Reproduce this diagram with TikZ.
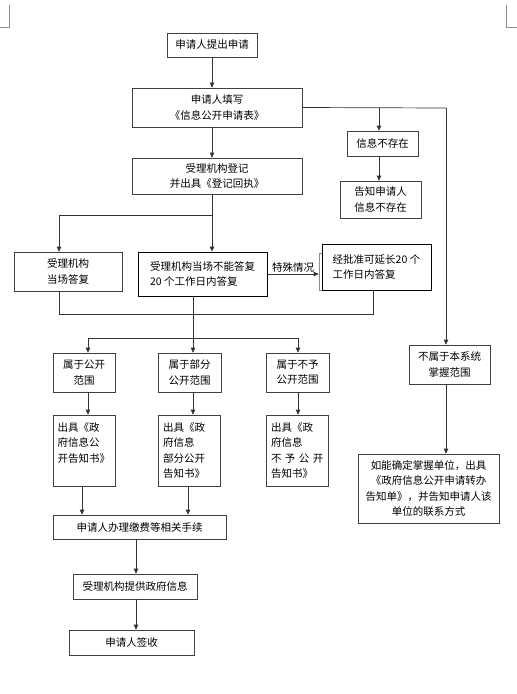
\documentclass[tikz,border=0pt]{standalone}
\usepackage{fontspec}
\newfontfamily\cjk{Noto Sans CJK SC}
\usetikzlibrary{arrows.meta}

\begin{document}
\begin{tikzpicture}[
    x=1pt, y=-1pt,
    box/.style={draw=black!75, rectangle, align=center, inner sep=2pt, fill=white, line width=0.7pt, font=\cjk\fontsize{10.5}{15.5}\selectfont},
    docbox/.style={box, align=left, text width=53pt, inner sep=4.5pt, minimum width=62pt, minimum height=71pt},
    arrow/.style={-{Triangle[width=4.5pt,length=5pt]}, line width=0.7pt, draw=black!80},
    line/.style={line width=0.7pt, draw=black!80},
    cornermark/.style={draw=black!45, line width=0.6pt}
]
\useasboundingbox (0,0) rectangle (517,694);

% corner marks
\draw [cornermark] (9,5) -- (9,27) -- (0,27);
\draw [cornermark] (506,5) -- (506,27) -- (517,27);

% Nodes
\node (top) [box, minimum width=90pt, minimum height=24pt] at (212,45) {申请人提出申请};
\node (fill) [box, minimum width=170pt, minimum height=39pt] at (217,107.5) {申请人填写\\《信息公开申请表》};
\node (reg) [box, minimum width=170pt, minimum height=36pt] at (217,176) {受理机构登记\\并出具《登记回执》};
\node (nonex) [box, minimum width=71pt, minimum height=25pt] at (382.5,143.5) {信息不存在};
\node (tell) [box, minimum width=81pt, minimum height=37pt] at (380.5,199.5) {告知申请人\\信息不存在};
\node (onsite) [box, minimum width=108pt, minimum height=39pt] at (68,271.5) {受理机构\\当场答复};
\node (later) [box, draw=black, line width=0.9pt, align=left, minimum width=129pt, minimum height=44pt] at (202.5,274) {受理机构当场不能答复\\20 个工作日内答复};
\node (extendsh) [draw=black!45, line width=0.7pt, minimum width=101pt, minimum height=37pt] at (369.5,271.5) {};
\node (extend) [box, draw=black, line width=0.9pt, align=left, minimum width=109pt, minimum height=46pt] at (376.5,267) {经批准可延长20 个\\工作日内答复};
\node (pub) [box, minimum width=62pt, minimum height=39pt] at (84,372.5) {属于公开\\范围};
\node (part) [box, minimum width=63pt, minimum height=39pt] at (189.5,372.5) {属于部分\\公开范围};
\node (nopub) [box, minimum width=63pt, minimum height=39pt] at (297.5,372.5) {属于不予\\公开范围};
\node (notsys) [box, minimum width=81pt, minimum height=39pt] at (449.5,364.5) {不属于本系统\\掌握范围};
\node (pubdoc) [docbox] at (84,450.5) {出具《政\\府信息公\\开告知书》\\\phantom{书}};
\node (partdoc) [docbox] at (189.5,450.5) {出具《政\\府信息\\部分公开\\告知书》};
\node (nopubdoc) [docbox] at (297.5,450.5) {出具《政\\府信息\\不 予 公 开\\告知书》};
\node (transfer) [box, minimum width=141pt, minimum height=69pt] at (428.5,488.5) {如能确定掌握单位，出具\\《政府信息公开申请转办\\告知单》，并告知申请人该\\单位的联系方式};
\node (fee) [box, minimum width=173pt, minimum height=24pt] at (139.5,527) {申请人办理缴费等相关手续};
\node (provide) [box, minimum width=124pt, minimum height=25pt] at (135,586.5) {受理机构提供政府信息};
\node (sign) [box, minimum width=125pt, minimum height=25pt] at (131.5,642.5) {申请人签收};

% Branch points
\coordinate (rt) at (446,108);
\coordinate (nb) at (379,108);
\coordinate (rb) at (212,215);
\coordinate (lb) at (59,215);
\coordinate (m1) at (59,314);
\coordinate (m2) at (373,314);
\coordinate (sb) at (193,338);
\coordinate (c1) at (88,338);
\coordinate (c3) at (298,338);
\coordinate (d1) at (82,0);
\coordinate (d2) at (188,0);
\coordinate (mid) at (136,0);

% Arrows
\draw [arrow] (top.south) -- (top.south |- fill.north);
\draw [arrow] (fill.south -| top) -- (reg.north -| top);
\draw [line] (fill.east) -- (rt);
\draw [arrow] (rt) -- (rt |- notsys.north);
\draw [arrow] (nb) -- (nb |- nonex.north);
\draw [arrow] (nonex.south -| nb) -- (tell.north -| nb);
\draw [line] (reg.south -| rb) -- (rb) -- (lb);
\draw [arrow] (lb) -- (lb |- onsite.north);
\draw [arrow] (rb) -- (rb |- later.north);
\draw [arrow] (later.east) -- node[above, font=\cjk\fontsize{10.5}{12}\selectfont, inner sep=1.5pt] {特殊情况} (later.east -| extendsh.west);
\draw [line] (lb |- onsite.south) -- (m1) -- (m2) -- (m2 |- extend.south);
\draw [line] (later.south -| sb) -- (sb);
\draw [line] (c1) -- (c3);
\draw [arrow] (c1) -- (c1 |- pub.north);
\draw [arrow] (sb) -- (sb |- part.north);
\draw [arrow] (c3) -- (c3 |- nopub.north);
\draw [arrow] (pub.south -| c1) -- (pubdoc.north -| c1);
\draw [arrow] (part.south -| sb) -- (partdoc.north -| sb);
\draw [arrow] (nopub.south -| c3) -- (nopubdoc.north -| c3);
\draw [arrow] (notsys.south -| rt) -- (transfer.north -| rt);
\draw [arrow] (pubdoc.south -| d1) -- (fee.north -| d1);
\draw [arrow] (partdoc.south -| d2) -- (fee.north -| d2);
\draw [arrow] (fee.south -| mid) -- (provide.north -| mid);
\draw [arrow] (provide.south -| mid) -- (sign.north -| mid);

\end{tikzpicture}
\end{document}
